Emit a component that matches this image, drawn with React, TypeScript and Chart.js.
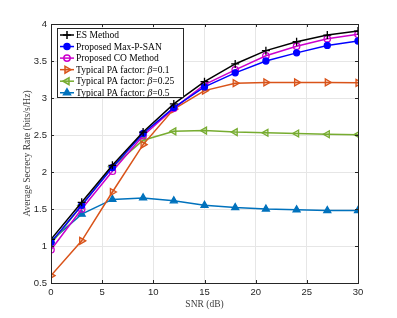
import React, { useEffect, useRef } from "react";
import { Chart, registerables } from "chart.js";
import { drawPoint } from "chart.js/helpers";

Chart.register(...registerables);

const snr = [0, 3, 6, 9, 12, 15, 18, 21, 24, 27, 30];
const esMethod = [1.09, 1.59, 2.09, 2.54, 2.92, 3.22, 3.46, 3.64, 3.76, 3.85, 3.905];
const maxPSan = [1.05, 1.55, 2.06, 2.52, 2.87, 3.15, 3.34, 3.5, 3.61, 3.71, 3.77];
const coMethod = [0.95, 1.5, 2.01, 2.49, 2.86, 3.18, 3.38, 3.57, 3.7, 3.8, 3.86];
const pa01 = [0.6, 1.07, 1.73, 2.37, 2.85, 3.1, 3.2, 3.21, 3.21, 3.21, 3.205];
const pa025 = [1.03, 1.55, 2.07, 2.43, 2.55, 2.56, 2.54, 2.53, 2.52, 2.51, 2.505];
const pa05 = [1.07, 1.43, 1.63, 1.65, 1.61, 1.55, 1.52, 1.5, 1.49, 1.48, 1.48];

const seriesLabels = [
  "ES Method",
  "Proposed Max-P-SAN",
  "Proposed CO Method",
  "Typical PA factor: ",
  "Typical PA factor: ",
  "Typical PA factor: ",
];
const betaSuffix = ["", "", "", "=0.1", "=0.25", "=0.5"];
const xTitle = "SNR (dB)";
const yTitle = "Average Secrecy Rate (bits/s/Hz)";

const AXIS_COLOR = "#262626";

const boxPlugin = {
  id: "boxTicks",
  afterDraw(chart: any) {
    const ctx = chart.ctx;
    const { left, right, top, bottom } = chart.chartArea;
    ctx.save();
    ctx.strokeStyle = AXIS_COLOR;
    ctx.lineWidth = 1;
    const xs = chart.scales.x;
    const ys = chart.scales.y;
    ctx.beginPath();
    xs.ticks.forEach((t: any) => {
      const px = Math.round(xs.getPixelForValue(t.value)) + 0.5;
      ctx.moveTo(px, bottom);
      ctx.lineTo(px, bottom - 3);
      ctx.moveTo(px, top);
      ctx.lineTo(px, top + 3);
    });
    ys.ticks.forEach((t: any) => {
      const py = Math.round(ys.getPixelForValue(t.value)) + 0.5;
      ctx.moveTo(left, py);
      ctx.lineTo(left + 3, py);
      ctx.moveTo(right, py);
      ctx.lineTo(right - 3, py);
    });
    ctx.stroke();
    ctx.strokeRect(Math.round(left) + 0.5, Math.round(top) + 0.5, Math.round(right - left), Math.round(bottom - top));
    ctx.restore();
  },
};

const legendPlugin = {
  id: "customLegend",
  afterDraw(chart: any) {
    const ctx = chart.ctx;
    const x0 = Math.round(chart.chartArea.left) + 6;
    const y0 = Math.round(chart.chartArea.top) + 4;
    const w = 126;
    const h = 69;
    ctx.save();
    ctx.fillStyle = "#ffffff";
    ctx.fillRect(x0, y0, w, h);
    ctx.strokeStyle = AXIS_COLOR;
    ctx.lineWidth = 1;
    ctx.strokeRect(x0 + 0.5, y0 + 0.5, w, h);
    chart.data.datasets.forEach((ds: any, i: number) => {
      const cy = y0 + 7 + i * 11.55;
      ctx.strokeStyle = ds.borderColor;
      ctx.lineWidth = ds.borderWidth;
      ctx.beginPath();
      ctx.moveTo(x0 + 3, cy);
      ctx.lineTo(x0 + 17, cy);
      ctx.stroke();
      ctx.fillStyle = ds.pointBackgroundColor;
      ctx.strokeStyle = ds.borderColor;
      drawPoint(
        ctx,
        {
          pointStyle: ds.pointStyle,
          rotation: ds.pointRotation || 0,
          radius: ds.pointRadius,
          borderWidth: ds.pointBorderWidth,
        } as any,
        x0 + 10,
        cy
      );
      ctx.fillStyle = "#000000";
      ctx.textBaseline = "middle";
      ctx.textAlign = "left";
      let tx = x0 + 19;
      ctx.font = "9.5px 'Liberation Serif'";
      ctx.fillText(seriesLabels[i], tx, cy + 0.5);
      tx += ctx.measureText(seriesLabels[i]).width;
      if (betaSuffix[i]) {
        ctx.font = "italic 9.5px 'Liberation Serif'";
        ctx.fillText("\u03b2", tx, cy + 0.5);
        tx += ctx.measureText("\u03b2").width;
        ctx.font = "9.5px 'Liberation Serif'";
        ctx.fillText(betaSuffix[i], tx, cy + 0.5);
      }
    });
    ctx.restore();
  },
};

function mk(
  values: number[],
  color: string,
  pointStyle: string,
  fill: string,
  rotation = 0,
  radius = 3.2
) {
  return {
    data: snr.map((x, i) => ({ x, y: values[i] })),
    borderColor: color,
    backgroundColor: color,
    borderWidth: 1.5,
    pointStyle,
    pointRotation: rotation,
    pointRadius: radius,
    pointBorderWidth: 1.3,
    pointBackgroundColor: fill,
    pointBorderColor: color,
    tension: 0,
    fill: false,
  };
}

export default function App() {
  const ref = useRef<HTMLCanvasElement>(null);
  useEffect(() => {
    if (!ref.current) return;
    const tickFont = { family: "'Liberation Sans'", size: 9.5 };
    const chart = new Chart(ref.current, {
      type: "line",
      data: {
        datasets: [
          mk(esMethod, "#000000", "cross", "#000000", 0, 4),
          mk(maxPSan, "#0000ff", "circle", "#0000ff", 0, 3),
          mk(coMethod, "#cc00cc", "circle", "rgba(255,255,255,0)", 0, 3.2),
          mk(pa01, "#D95319", "triangle", "rgba(217,83,25,0.25)", 90, 4),
          mk(pa025, "#77AC30", "triangle", "rgba(119,172,48,0.25)", -90, 4),
          mk(pa05, "#0072BD", "triangle", "#0072BD", 0, 4),
        ] as any,
      },
      options: {
        animation: false,
        responsive: false,
        devicePixelRatio: 1,
        layout: { padding: { left: 0, top: 24, right: 39, bottom: 0 } },
        plugins: { legend: { display: false }, tooltip: { enabled: false } },
        scales: {
          x: {
            type: "linear",
            min: 0,
            max: 30,
            ticks: {
              stepSize: 5,
              font: tickFont,
              color: AXIS_COLOR,
              padding: 4,
              maxRotation: 0,
              callback: (v: any) => String(Number(v)),
            },
            grid: { color: "#e6e6e6", drawTicks: false },
            border: { display: false },
            title: {
              display: true,
              text: xTitle,
              font: { family: "'Liberation Serif'", size: 9.5 },
              color: "#404040",
              padding: { top: 0, bottom: 8 },
            },
            afterFit: (s: any) => {
              s.height = 35;
            },
          },
          y: {
            type: "linear",
            min: 0.5,
            max: 4,
            ticks: {
              stepSize: 0.5,
              font: tickFont,
              color: AXIS_COLOR,
              padding: 4,
              callback: (v: any) => String(Number(v)),
            },
            grid: { color: "#e6e6e6", drawTicks: false },
            border: { display: false },
            title: {
              display: true,
              text: yTitle,
              font: { family: "'Liberation Serif'", size: 9.5 },
              color: "#404040",
              padding: { top: 22, bottom: 0 },
            },
            afterFit: (s: any) => {
              s.width = 51;
            },
          },
        },
      },
      plugins: [boxPlugin, legendPlugin],
    } as any);
    return () => chart.destroy();
  }, []);
  return (
    <div style={{ position: "absolute", left: 0, top: 0, width: 397, height: 318 }}>
      <canvas ref={ref} width={397} height={318} />
    </div>
  );
}
